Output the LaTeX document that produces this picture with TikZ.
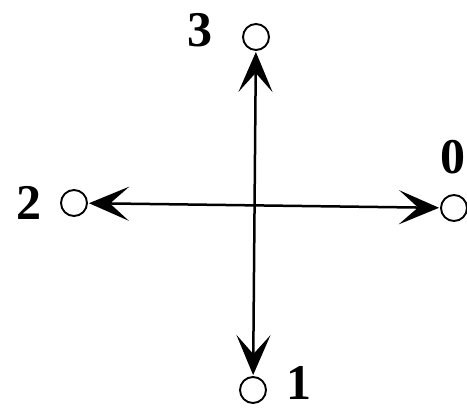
\documentclass[tikz,border=0pt]{standalone}
\usepackage{fontspec}
\setmainfont{Liberation Serif}
\usetikzlibrary{arrows.meta}
\begin{document}
\begin{tikzpicture}[x=1pt,y=-1pt,
  port/.style={circle,draw,line width=1.9pt,minimum size=26pt,inner sep=0pt},
  lbl/.style={font=\fontsize{50}{50}\selectfont\bfseries,inner sep=0pt},
  link/.style={line width=2.5pt,{Stealth[length=40pt,width=34pt,inset=19pt]}-{Stealth[length=40pt,width=34pt,inset=19pt]},shorten <=1pt,shorten >=1pt}]
\useasboundingbox (0,0) rectangle (467,410);
\node[port] (n3) at (256,37) {};
\node[port] (n2) at (74,203) {};
\node[port] (n0) at (454,208) {};
\node[port] (n1) at (253,390) {};
\node[lbl] (l3) at (200,30) {3};
\node[lbl] (l2) at (29,203) {2};
\node[lbl] (l0) at (453,157) {0};
\node[lbl] (l1) at (299,383) {1};
\draw[link] (n3) -- (n1);
\draw[link] (n2) -- (n0);
\end{tikzpicture}
\end{document}
